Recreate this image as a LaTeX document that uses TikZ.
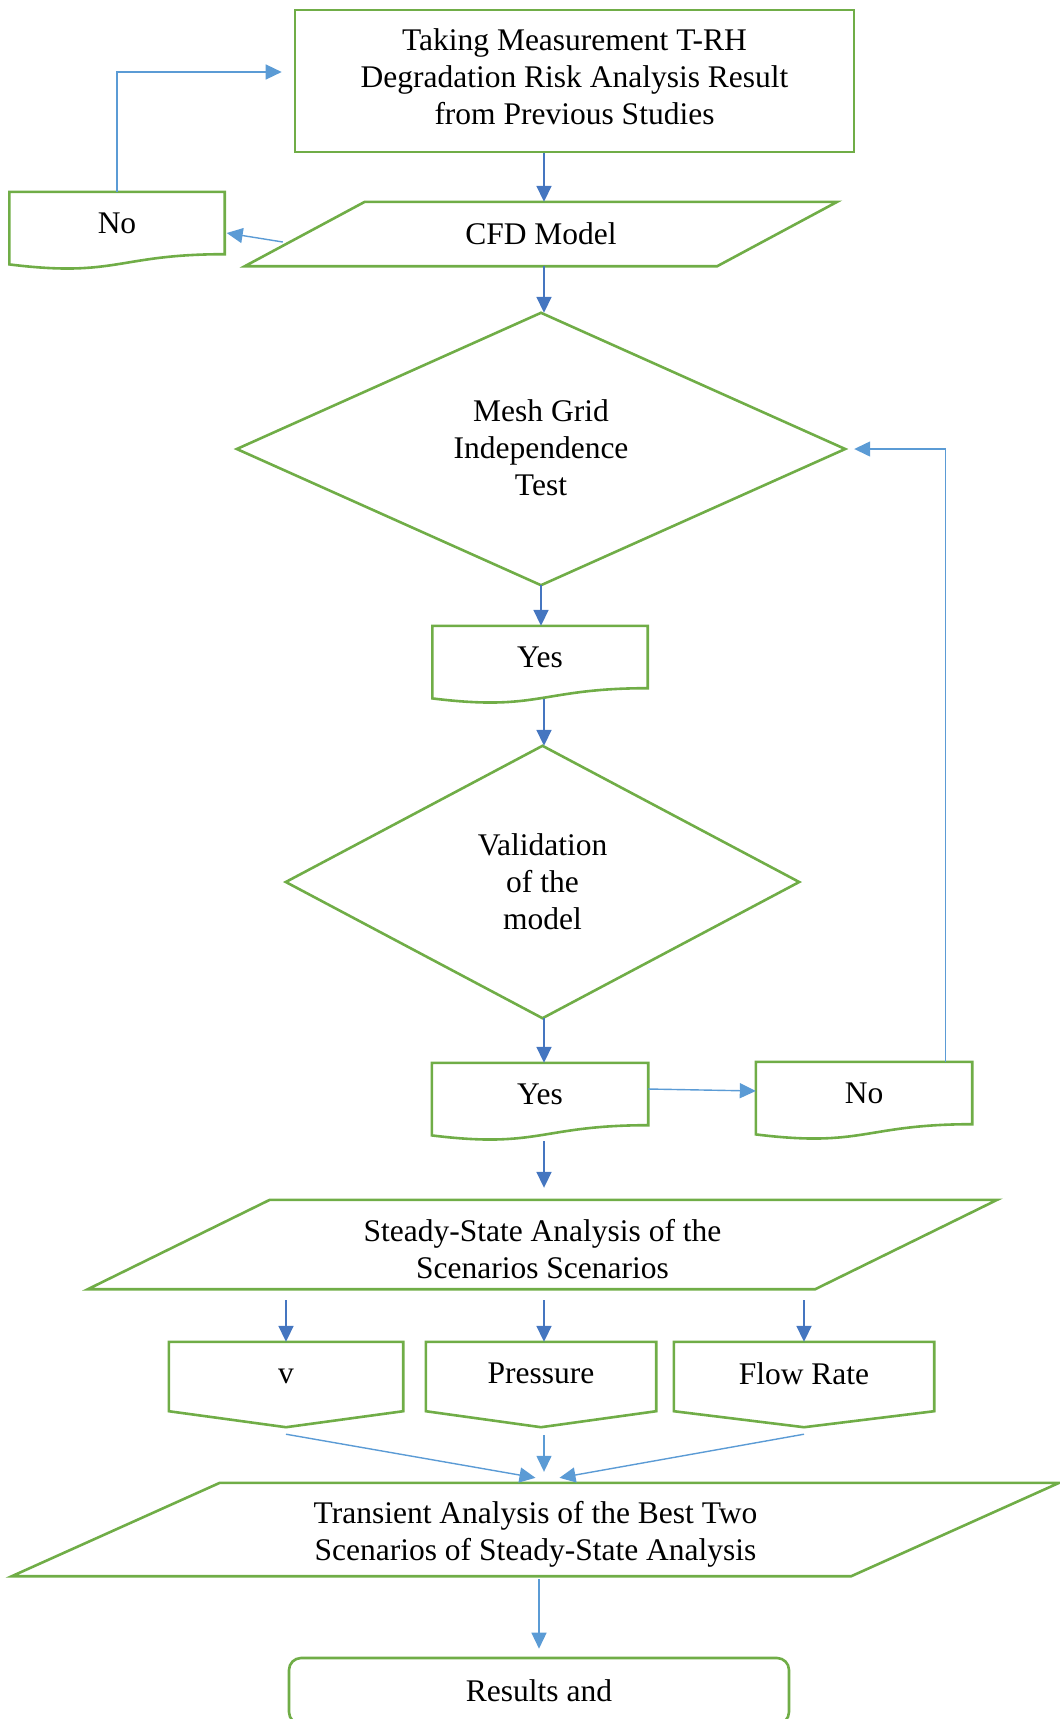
\documentclass[tikz,border=0pt]{standalone}
\usepackage{fontspec}
\setmainfont{Liberation Serif}
\usepackage{tikz}
\usetikzlibrary{arrows.meta, calc}

\definecolor{flowgreen}{HTML}{70AD47}
\definecolor{linkblue}{HTML}{4576C0}
\definecolor{lightblue}{HTML}{5B9BD5}

\tikzset{
  shp/.style={inner sep=0pt, align=center, font=\fontsize{31.5}{37}\selectfont},
  outline/.style={draw=flowgreen, line width=2.6pt},
  link/.style={->, draw=linkblue, line width=1.8pt},
  linklight/.style={->, draw=lightblue, line width=1.4pt},
}

\newcommand{\docout}[1]{\draw[outline] (#1.north west) -- (#1.north east) -- (#1.south east)
  .. controls (#1.south) and ($(#1.south)+(0,23.6)$) .. ($(#1.south west)+(0,10.2)$) -- cycle;}
\newcommand{\paraout}[2]{\draw[outline] ([xshift=#2]#1.north west) -- (#1.north east)
  -- ([xshift=-#2]#1.south east) -- (#1.south west) -- cycle;}
\newcommand{\diamout}[1]{\draw[outline] (#1.north) -- (#1.east) -- (#1.south) -- (#1.west) -- cycle;}
\newcommand{\pageout}[1]{\draw[outline] (#1.north west) -- (#1.north east) -- (#1.south east)
  -- ($(#1.south)+(0,16)$) -- (#1.south west) -- cycle;}
\newcommand{\dn}[1]{\rule[-#1]{0pt}{0pt}}
\newcommand{\up}[1]{\rule{0pt}{#1}}

\begin{document}
\begin{tikzpicture}[x=1pt, y=-1pt, >={Triangle[length=16pt,width=15pt]}]
            \useasboundingbox (0,0) rectangle (1060,1719);
            \coordinate (spine) at (544,0);

            \node[shp, outline, minimum width=559pt, minimum height=142pt] (meas) at (574.5,81) {Taking Measurement T-RH\\Degradation Risk Analysis Result\\from Previous Studies\dn{9pt}};
            \node[shp, minimum width=592pt, minimum height=64pt] (cfd) at (541,234) {CFD Model};
            \node[shp, minimum width=215pt, minimum height=62pt] (no1) at (117,223) {No};
            \node[shp, minimum width=608pt, minimum height=272pt] (mesh) at (541,449) {Mesh Grid\\Independence\\Test\dn{3pt}};
            \node[shp, minimum width=215pt, minimum height=62pt] (yes1) at (540,657) {Yes};
            \node[shp, minimum width=513pt, minimum height=272pt] (valid) at (542.5,882) {Validation\\of the\\model};
            \node[shp, minimum width=216pt, minimum height=62pt] (yes2) at (540,1094) {Yes};
            \node[shp, minimum width=216pt, minimum height=62pt] (no2) at (864,1093) {No};
            \node[shp, minimum width=909pt, minimum height=89pt] (steady) at (542.5,1244.5) {\up{32pt}Steady-State Analysis of the\\Scenarios Scenarios};
            \node[shp, minimum width=234pt, minimum height=69pt] (vel) at (286,1376.5) {v};
            \node[shp, minimum width=230pt, minimum height=69pt] (press) at (541,1376.5) {Pressure\dn{6pt}};
            \node[shp, minimum width=260pt, minimum height=69pt] (flow) at (804,1376.5) {Flow Rate\dn{6pt}};
            \node[shp, minimum width=1047pt, minimum height=93pt] (trans) at (535.5,1529.5) {\up{31pt}Transient Analysis of the Best Two\\Scenarios of Steady-State Analysis};
            \node[shp, outline, rounded corners=12pt, minimum width=500pt, minimum height=66pt] (res) at (539,1691) {Results and};

            \paraout{cfd}{120}
            \docout{no1}
            \diamout{mesh}
            \docout{yes1}
            \diamout{valid}
            \docout{yes2}
            \docout{no2}
            \paraout{steady}{182}
            \pageout{vel}
            \pageout{press}
            \pageout{flow}
            \paraout{trans}{208}

            \draw[link] (meas.south -| spine) -- (cfd.north -| spine);
            \draw[linklight] ($(cfd.west)+(38,8)$) -- ($(no1.east)+(2,10)$);
            \draw[linklight] (no1.north) |- ($(meas.west)+(-12,-9)$);
            \draw[link] (cfd.south -| spine) -- (mesh.north -| spine);
            \draw[link] (mesh.south) -- (mesh.south |- yes1.north);
            \draw[link] ($(yes1.south -| spine)+(0,11)$) -- (valid.north -| spine);
            \draw[link] (valid.south -| spine) -- (yes2.north -| spine);
            \draw[linklight] ($(yes2.east)+(0,-5)$) -- ($(no2.west)+(0,-2)$);
            \draw[linklight] ($(no2.north east)+(-27,0)$) |- ($(mesh.east)+(9,0)$);
            \draw[link] ($(yes2.south -| spine)+(0,16)$) -- ($(steady.north -| spine)+(0,-12)$);
            \draw[link] ($(steady.south -| vel)+(0,11)$) -- (vel.north);
            \draw[link] ($(steady.south -| spine)+(0,11)$) -- (press.north -| spine);
            \draw[link] ($(steady.south -| flow)+(0,11)$) -- (flow.north);
            \draw[linklight] ($(vel.south)+(0,23)$) -- ($(trans.north)+(0,-5)$);
            \draw[linklight] ($(press.south -| spine)+(0,24)$) -- ($(trans.north -| spine)+(0,-11)$);
            \draw[linklight] ($(flow.south)+(0,23)$) -- ($(trans.north)+(24,-5)$);
            \draw[linklight] ($(trans.south -| res)+(0,3)$) -- ($(res.north)+(0,-8)$);
        \end{tikzpicture}
\end{document}
